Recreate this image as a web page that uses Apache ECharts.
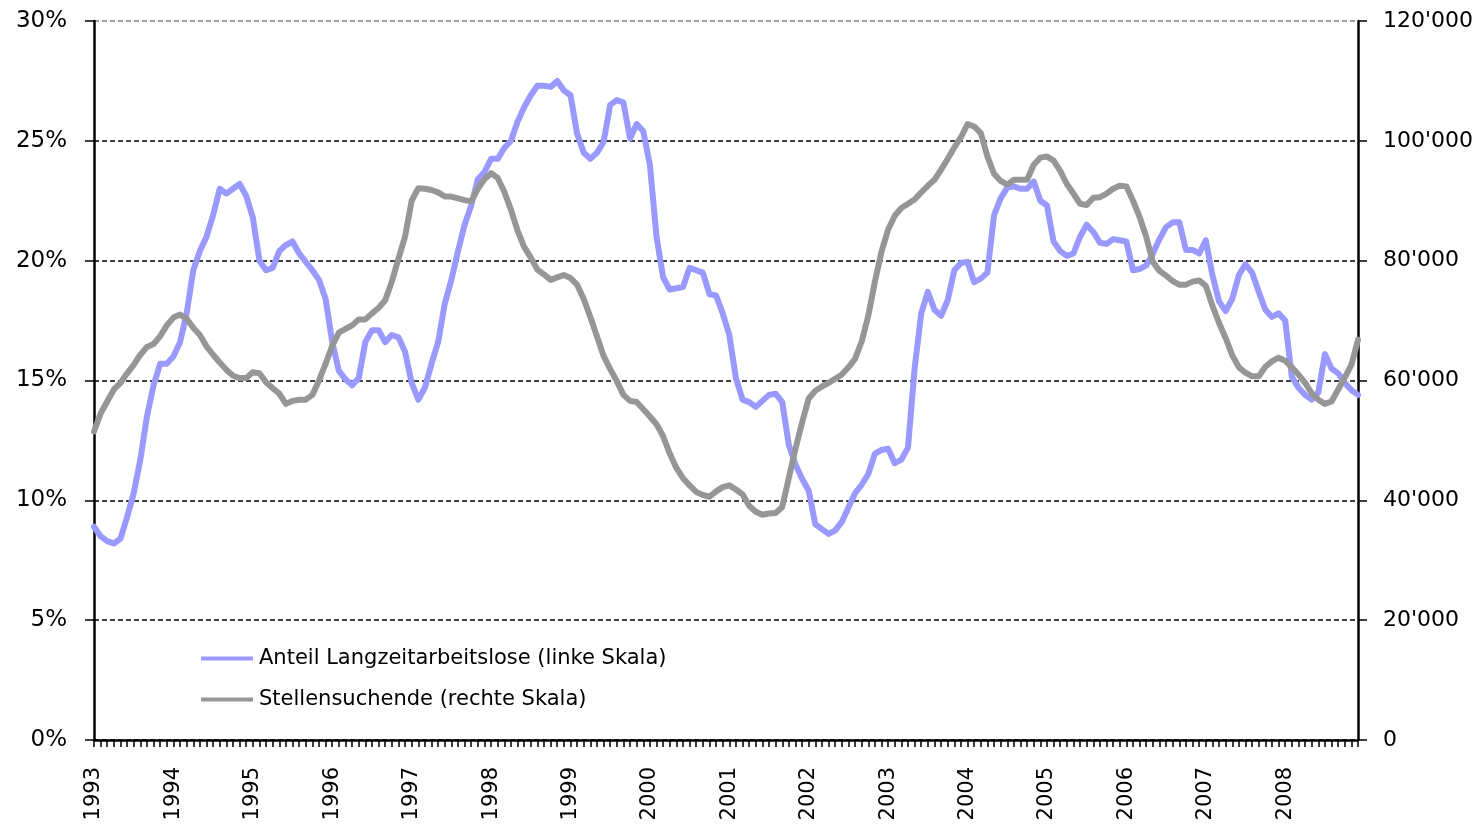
<!DOCTYPE html>
<html>
<head>
<meta charset="utf-8">
<script src="https://cdn.jsdelivr.net/npm/echarts@6/dist/echarts.min.js"></script>
<style>
html,body{margin:0;padding:0;background:#fff;}
#chart{width:1479px;height:824px;}
</style>
</head>
<body>
<div id="chart"></div>
<script>
const years = ['1993','1994','1995','1996','1997','1998','1999','2000','2001','2002','2003','2004','2005','2006','2007','2008'];
const monthCodes = ['01','02','03','04','05','06','07','08','09','10','11','12'];

const seriesNames = ['Anteil Langzeitarbeitslose (linke Skala)', 'Stellensuchende (rechte Skala)'];

// Share of long-term unemployed, % (left scale), monthly 1993-01 .. 2008-12
const anteilLangzeit = [
  8.9, 8.5, 8.3, 8.2, 8.4, 9.3, 10.3, 11.7, 13.5, 14.8, 15.7, 15.7,
  16.0, 16.6, 17.8, 19.6, 20.4, 21.0, 21.9, 23.0, 22.8, 23.0, 23.2, 22.7,
  21.8, 20.0, 19.6, 19.7, 20.4, 20.65, 20.8, 20.3, 19.95, 19.6, 19.2, 18.4,
  16.6, 15.4, 15.05, 14.8, 15.1, 16.6, 17.1, 17.1, 16.6, 16.9, 16.8, 16.2,
  14.9, 14.2, 14.7, 15.7, 16.6, 18.2, 19.2, 20.4, 21.5, 22.3, 23.4, 23.7,
  24.25, 24.25, 24.7, 25.0, 25.8, 26.4, 26.9, 27.3, 27.3, 27.25, 27.5, 27.1,
  26.9, 25.3, 24.5, 24.25, 24.5, 24.95, 26.5, 26.7, 26.6, 25.1, 25.7, 25.4,
  24.0, 21.0, 19.3, 18.8, 18.85, 18.9, 19.7, 19.6, 19.5, 18.6, 18.55, 17.8,
  16.9, 15.1, 14.2, 14.1, 13.9, 14.15, 14.4, 14.45, 14.1, 12.3, 11.5, 10.9,
  10.4, 9.0, 8.8, 8.6, 8.75, 9.1, 9.7, 10.3, 10.65, 11.1, 11.95, 12.1,
  12.15, 11.55, 11.7, 12.2, 15.5, 17.8, 18.7, 17.95, 17.7, 18.35, 19.6, 19.9,
  19.95, 19.1, 19.25, 19.5, 21.9, 22.6, 23.05, 23.1, 23.0, 23.0, 23.3, 22.5,
  22.3, 20.8, 20.4, 20.2, 20.3, 21.0, 21.5, 21.2, 20.75, 20.7, 20.9, 20.85,
  20.8, 19.6, 19.65, 19.8, 20.3, 20.9, 21.4, 21.6, 21.6, 20.45, 20.45, 20.3,
  20.85, 19.4, 18.3, 17.9, 18.4, 19.4, 19.85, 19.5, 18.7, 17.95, 17.65, 17.8,
  17.5, 15.15, 14.7, 14.4, 14.2, 14.5, 16.1, 15.5, 15.3, 14.9, 14.6, 14.4
];

// Job seekers (right scale), monthly 1993-01 .. 2008-12
const stellensuchende = [
  51500, 54500, 56500, 58500, 59600, 61200, 62600, 64300, 65600, 66100, 67400, 69200,
  70500, 71000, 70300, 68800, 67600, 65700, 64300, 63000, 61800, 60800, 60400, 60400,
  61400, 61200, 59700, 58700, 57800, 56100, 56600, 56800, 56800, 57600, 60000, 62800,
  65800, 68000, 68600, 69200, 70200, 70200, 71200, 72100, 73400, 76500, 80300, 84000,
  90000, 92100, 92000, 91800, 91400, 90700, 90700, 90400, 90100, 89900, 92000, 93600,
  94600, 93800, 91500, 88500, 85000, 82300, 80500, 78500, 77700, 76800, 77200, 77600,
  77100, 76000, 73600, 70600, 67400, 64100, 61900, 59900, 57600, 56600, 56400, 55200,
  54000, 52700, 50700, 47800, 45400, 43700, 42500, 41400, 40900, 40600, 41500, 42200,
  42500, 41800, 41000, 39100, 38100, 37600, 37800, 37900, 38900, 43800, 48600, 53000,
  57000, 58300, 59000, 59600, 60300, 61000, 62200, 63600, 66500, 70800, 76500, 81500,
  85200, 87500, 88800, 89500, 90200, 91400, 92500, 93500, 95200, 97000, 98900, 100600,
  102800, 102400, 101300, 97400, 94500, 93300, 92700, 93500, 93500, 93500, 96000, 97200,
  97400, 96700, 95000, 92800, 91200, 89500, 89300, 90500, 90600, 91200, 92000, 92500,
  92400, 90000, 87300, 84000, 79800, 78300, 77500, 76600, 76000, 76000, 76500, 76700,
  75800, 72500, 69600, 67100, 64200, 62200, 61300, 60700, 60700, 62300, 63200, 63800,
  63300, 62200, 61000, 59600, 57900, 56800, 56100, 56500, 58500, 60500, 62600, 66800
];

const leftTicks = { min: 0, max: 30, interval: 5 };
const rightTicks = { min: 0, max: 120000, interval: 20000 };

const categories = [];
years.forEach(y => monthCodes.forEach(m => categories.push(y + '-' + m)));

const FONT = 'DejaVu Sans';
const chart = echarts.init(document.getElementById('chart'), null, { renderer: 'canvas' });

function fmtThousands(v) {
  if (v === 0) return '0';
  const s = String(Math.round(v));
  return s.replace(/\B(?=(\d{3})+(?!\d))/g, "'");
}

chart.setOption({
  animation: false,
  backgroundColor: '#ffffff',
  grid: { left: 94, right: 121, top: 21, bottom: 84, containLabel: false },
  legend: {
    left: 201,
    top: 648,
    orient: 'vertical',
    icon: 'rect',
    itemWidth: 52,
    itemHeight: 4,
    itemGap: 20,
    padding: 0,
    textStyle: { fontFamily: FONT, fontSize: 21, color: '#000', padding: [0, 0, 0, 1] },
    data: seriesNames
  },
  xAxis: {
    type: 'category',
    data: categories,
    boundaryGap: false,
    axisLine: { show: true, onZero: false, lineStyle: { color: '#000', width: 2.5 } },
    axisTick: { show: true, interval: 0, length: 7, lineStyle: { color: '#000', width: 1.5 } },
    axisLabel: {
      interval: (idx) => idx % 12 === 0,
      rotate: 90,
      margin: 27,
      fontFamily: FONT,
      fontSize: 21,
      color: '#000',
      formatter: (v) => v.slice(0, 4)
    },
    splitLine: { show: false }
  },
  yAxis: [
    {
      type: 'value',
      position: 'left',
      min: leftTicks.min, max: leftTicks.max, interval: leftTicks.interval,
      axisLine: { show: true, lineStyle: { color: '#000', width: 2.5 } },
      axisTick: { show: true, length: 9, lineStyle: { color: '#000', width: 1.5 } },
      axisLabel: { margin: 27, fontFamily: FONT, fontSize: 23, color: '#000', formatter: (v) => v + '%' },
      splitLine: {
        show: true,
        lineStyle: { color: ['#000', '#000', '#000', '#000', '#000', '#000', '#7f7f7f'], width: 1.5, type: [5, 3] }
      }
    },
    {
      type: 'value',
      position: 'right',
      min: rightTicks.min, max: rightTicks.max, interval: rightTicks.interval,
      axisLine: { show: true, lineStyle: { color: '#000', width: 2.5 } },
      axisTick: { show: true, length: 9, lineStyle: { color: '#000', width: 1.5 } },
      axisLabel: { margin: 25, fontFamily: FONT, fontSize: 22, color: '#000', formatter: fmtThousands },
      splitLine: { show: false }
    }
  ],
  series: [
    {
      name: seriesNames[0],
      type: 'line',
      yAxisIndex: 0,
      data: anteilLangzeit,
      symbol: 'none',
      color: '#9999ff',
      lineStyle: { color: '#9999ff', width: 6, cap: 'round', join: 'round' }
    },
    {
      name: seriesNames[1],
      type: 'line',
      yAxisIndex: 1,
      data: stellensuchende,
      symbol: 'none',
      color: '#969696',
      lineStyle: { color: '#969696', width: 6, cap: 'round', join: 'round' }
    }
  ]
});
</script>
</body>
</html>
